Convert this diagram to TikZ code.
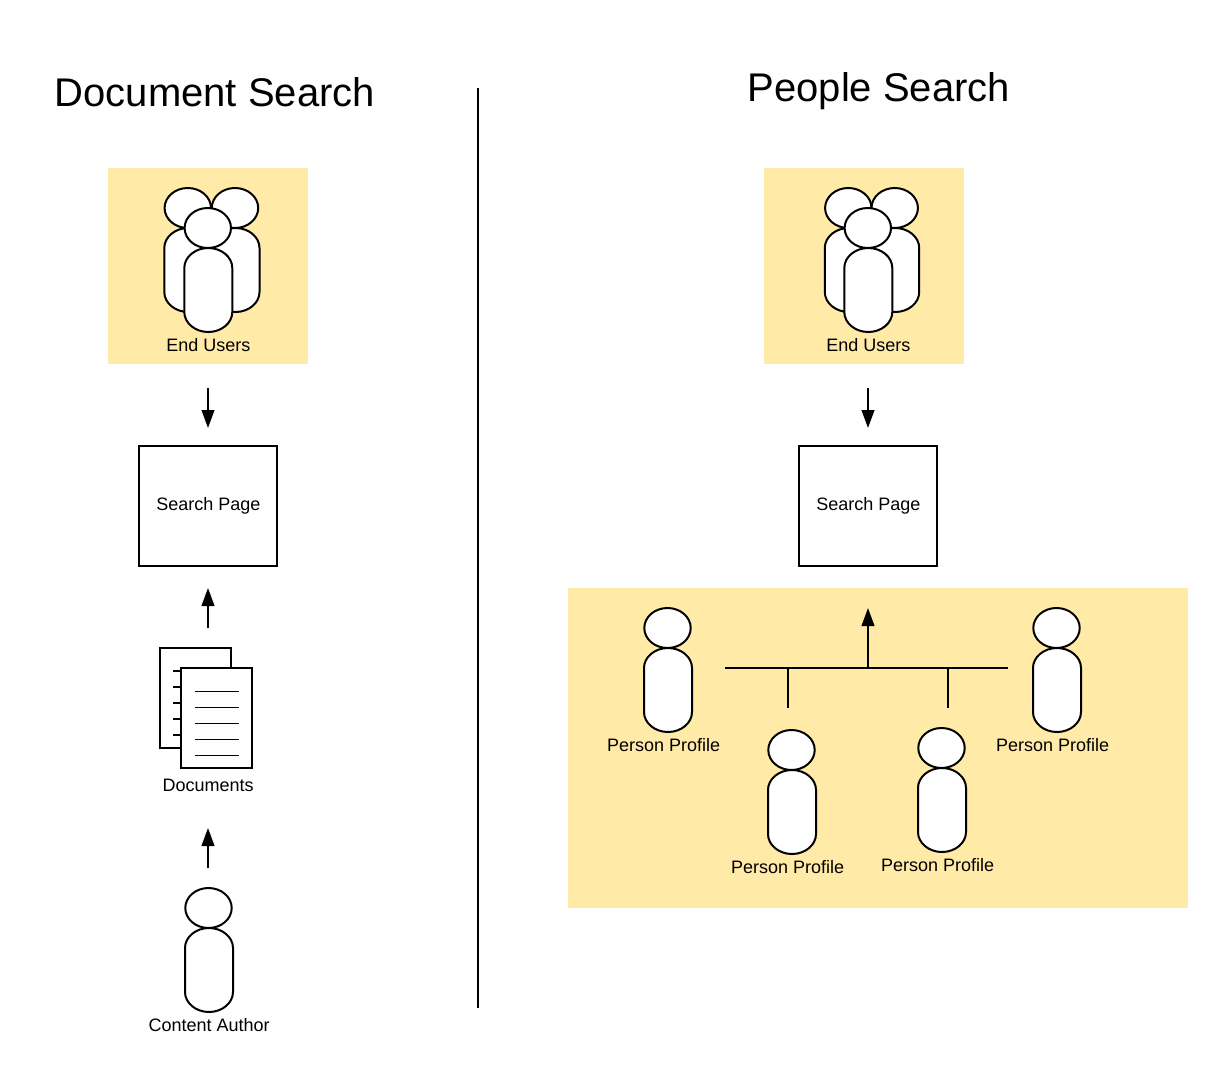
\documentclass[tikz,border=0pt]{standalone}
\usepackage{fontspec}
\setmainfont{Liberation Sans}
\usetikzlibrary{arrows.meta}
\definecolor{paneyellow}{HTML}{FFEAA7}
\tikzset{
  px/.style={x=.75pt,y=-.75pt},
  ink/.style={draw=black,line width=1.5pt},
  pagebox/.style={ink,fill=white,inner sep=0pt,outer sep=0pt,minimum width=103.5pt,minimum height=90pt,rectangle,font=\fontsize{13.5}{16}\selectfont},
  sheet/.style={ink,fill=white},
  rule/.style={draw=black,line width=.8pt},
  flow/.style={ink,-{Triangle[length=13.5pt,width=9.5pt]}},
  wire/.style={ink},
  lbl/.style={inner sep=0pt,font=\fontsize{13.5}{16}\selectfont},
  heading/.style={inner sep=0pt,font=\fontsize{30}{36}\selectfont},
  person/.pic={
    \path[ink,fill=white] (-.5,-20) ellipse [x radius=23.2,y radius=20];
    \path[ink,fill=white] (-24,20) .. controls (-24,9) and (-13.2,0) .. (0,0)
      .. controls (13.2,0) and (24,9) .. (24,20) -- (24,64)
      .. controls (24,75) and (13.2,84) .. (0,84)
      .. controls (-13.2,84) and (-24,75) .. (-24,64) -- cycle;
  }
}
\begin{document}
\begin{tikzpicture}[px]
\useasboundingbox (0,0) rectangle (1228,1088);
% panes
\fill[paneyellow] (108,168) rectangle (308,364);
\fill[paneyellow] (764,168) rectangle (964,364);
\fill[paneyellow] (568,588) rectangle (1188,908);
% headings and divider
\node[heading] (titleL) at (214.8,92) {Document Search};
\node[heading] (titleR) at (878.8,91) {People Search};
\coordinate (divT) at (478,88);
\coordinate (divB) at (478,1008);
\draw[ink] (divT) -- (divB);
% end users, left
\pic at (188.3,228) {person};
\pic at (235.5,228) {person};
\pic at (208.3,248) {person};
\node[lbl] (euL) at (208.3,345) {End Users};
% end users, right
\pic at (848.8,228) {person};
\pic at (895.2,228) {person};
\pic at (868.3,248) {person};
\node[lbl] (euR) at (868.3,345) {End Users};
% search pages
\node[pagebox] (spL) at (208,506) {\hspace{.5pt}\raisebox{1.5pt}{Search Page}};
\node[pagebox] (spR) at (868,506) {\hspace{.5pt}\raisebox{1.5pt}{Search Page}};
% documents
\draw[sheet] (160,648) rectangle (231,748);
\foreach \yy in {671,687,703,719,735} \draw[rule] (173,\yy) -- (181,\yy);
\draw[sheet] (181,668) rectangle (252,768);
\foreach \yy in {691.5,707.5,723.5,739.5,755.5} \draw[rule] (195,\yy) -- (239,\yy);
\node[lbl] (docs) at (208.1,785) {Documents};
% content author
\pic at (209,928) {person};
\node[lbl] (author) at (209.1,1025) {Content Author};
% person profiles
\pic at (668,648) {person};
\node[lbl] (pp1) at (663.6,745) {Person Profile};
\pic at (1057,648) {person};
\node[lbl] (pp4) at (1052.6,745) {Person Profile};
\pic at (792,770) {person};
\node[lbl] (pp2) at (787.6,867) {Person Profile};
\pic at (942,768) {person};
\node[lbl] (pp3) at (937.6,865) {Person Profile};
% connector anchors
\coordinate (a1s) at (208,388); \coordinate (a1e) at (208,428);
\coordinate (a2s) at (868,388); \coordinate (a2e) at (868,428);
\coordinate (a3s) at (208,628); \coordinate (a3e) at (208,588);
\coordinate (a4s) at (208,868); \coordinate (a4e) at (208,828);
\coordinate (busL) at (725,668); \coordinate (busR) at (1008,668);
\coordinate (busM) at (868,668); \coordinate (busTop) at (868,608);
\coordinate (j1) at (788,668); \coordinate (j1e) at (788,708);
\coordinate (j2) at (948,668); \coordinate (j2e) at (948,708);
\draw[flow] (a1s) -- (a1e);
\draw[flow] (a2s) -- (a2e);
\draw[flow] (a3s) -- (a3e);
\draw[flow] (a4s) -- (a4e);
\draw[wire] (busL) -- (busR);
\draw[wire] (j1) -- (j1e);
\draw[wire] (j2) -- (j2e);
\draw[flow] (busM) -- (busTop);
\end{tikzpicture}
\end{document}
